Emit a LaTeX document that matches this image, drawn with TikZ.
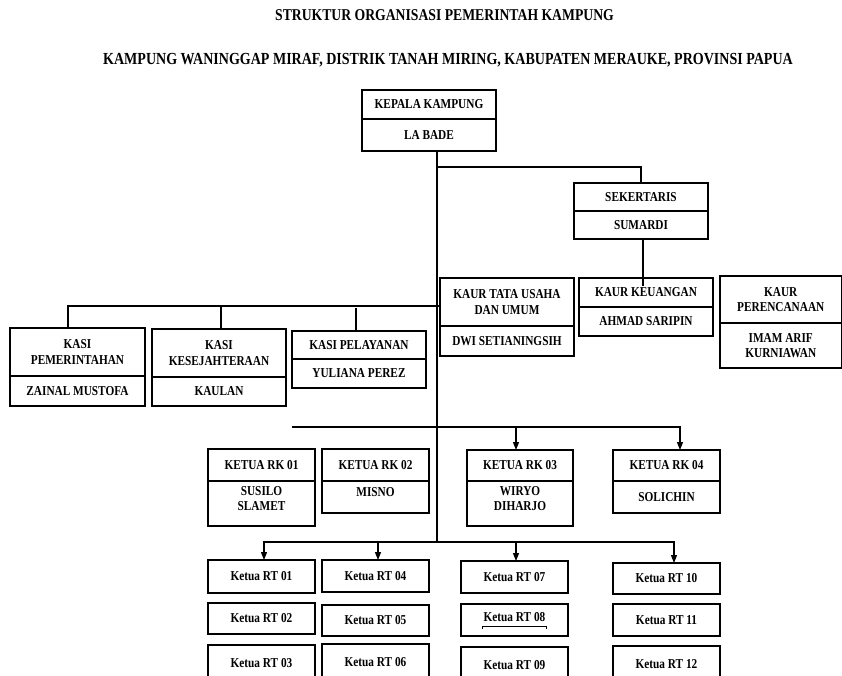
\documentclass[tikz,border=0pt]{standalone}
\usepackage{fontspec}
\setmainfont{Liberation Serif}[FakeStretch=0.83]
\usetikzlibrary{arrows.meta}
\newcommand\cellfont{\fontsize{13.6}{15.5}\selectfont\bfseries}
\newcommand\ttlfont{\fontsize{16.5}{18}\selectfont\bfseries}
\newcommand\ttlfontb{\fontsize{16.9}{18}\selectfont\bfseries}
\newcommand\twobox[9]{%
  \node[cell, minimum width=#3pt, minimum height=#5pt] (#1) at (#2,#4) {#7};
  \node[cell, minimum width=#3pt, minimum height=#6pt, #9] (#1b) at (#1.south west) {#8};
}
\begin{document}
\begin{tikzpicture}[x=1pt,y=-1pt,
  cell/.style={draw, line width=1.1pt, inner sep=0pt, outer sep=0pt, align=center, font=\cellfont, anchor=north west},
  rtbox/.style={cell, minimum width=107pt},
  link/.style={line width=1.2pt},
  arr/.style={line width=1.2pt, -{Triangle[length=8pt,width=6pt]}},
  title/.style={font=\ttlfont, inner sep=0pt}]
\useasboundingbox (0,0) rectangle (842,676);

% titles
\node[title] (t1) at (444.5,15) {STRUKTUR ORGANISASI PEMERINTAH KAMPUNG};
\node[title, font=\ttlfontb] (t2) at (448,60) {KAMPUNG WANINGGAP MIRAF, DISTRIK TANAH MIRING, KABUPATEN MERAUKE, PROVINSI PAPUA};

% two-part boxes
\twobox{kk}{362}{134}{90}{29}{32}{KEPALA KAMPUNG}{LA BADE}{}
\twobox{sek}{574}{134}{183}{28}{28}{SEKERTARIS}{SUMARDI}{}
\twobox{ktu}{440}{134}{278}{48}{30}{KAUR TATA USAHA\\DAN UMUM}{DWI SETIANINGSIH}{}
\twobox{kkeu}{579}{134}{278}{29}{29}{KAUR KEUANGAN}{AHMAD SARIPIN}{}
\twobox{kper}{720}{121.5}{276}{47}{45}{KAUR\\PERENCANAAN}{IMAM ARIF\\KURNIAWAN}{}
\twobox{kpem}{10}{135}{328}{48}{30}{KASI\\PEMERINTAHAN}{ZAINAL MUSTOFA}{}
\twobox{kkes}{152}{134}{329}{48}{29}{KASI\\KESEJAHTERAAN}{KAULAN}{}
\twobox{kpel}{292}{134}{331}{28}{29}{KASI PELAYANAN}{YULIANA PEREZ}{}
\twobox{rk1}{208}{107}{449}{32}{45}{KETUA RK 01}{SUSILO\\SLAMET}{text depth=10pt}
\twobox{rk2}{322}{107}{449}{32}{32}{KETUA RK 02}{MISNO}{text depth=11pt}
\twobox{rk3}{467}{106}{450}{31}{45}{KETUA RK 03}{WIRYO\\DIHARJO}{text depth=10pt}
\twobox{rk4}{613}{107}{450}{31}{32}{KETUA RK 04}{SOLICHIN}{}

% RT boxes
\node[rtbox, minimum height=33pt] (rt1) at (208,560) {Ketua RT 01};
\node[rtbox, minimum height=31pt] (rt2) at (208,603) {Ketua RT 02};
\node[rtbox, minimum height=36pt] (rt3) at (208,645) {Ketua RT 03};
\node[rtbox, minimum height=32pt] (rt4) at (322,560) {Ketua RT 04};
\node[rtbox, minimum height=31pt] (rt5) at (322,605) {Ketua RT 05};
\node[rtbox, minimum height=36pt] (rt6) at (322,644) {Ketua RT 06};
\node[rtbox, minimum height=32pt] (rt7) at (461,561) {Ketua RT 07};
\node[rtbox, minimum height=32pt, text depth=6pt] (rt8) at (461,604) {Ketua RT 08};
\node[rtbox, minimum height=36pt] (rt9) at (461,647) {Ketua RT 09};
\node[rtbox, minimum height=31pt] (rt10) at (613,563) {Ketua RT 10};
\node[rtbox, minimum height=32pt] (rt11) at (613,604) {Ketua RT 11};
\node[rtbox, minimum height=36pt] (rt12) at (613,646) {Ketua RT 12};
\draw[line width=0.6pt] (482,629) -- (482,626) -- (546,626) -- (546,629);

% spine
\coordinate (sptop) at ([xshift=8pt]kkb.south);
\coordinate (spbot) at (sptop |- 0,542);
\draw[link] (sptop) -- (spbot);

% sekertaris
\coordinate (jsek) at (sptop |- 0,167);
\draw[link] (jsek) -| (sek.north);
\coordinate (sekend) at (643,286);
\draw[link] (sekb.south -| sekend) -- (sekend);

% kasi bus
\coordinate (kbusL) at (68,306);
\coordinate (kbusR) at (440,306);
\coordinate (kb2) at (221,306);
\coordinate (kb3) at (356,308);
\draw[link] (kbusR) -- (kbusL) -- (kbusL |- kpem.north);
\draw[link] (kb2) -- (kb2 |- kkes.north);
\draw[link] (kb3) -- (kb3 |- kpel.north);

% RK bus
\coordinate (rkL) at (292,427);
\coordinate (rkR) at (680,427);
\coordinate (rk3j) at (516,427);
\draw[arr] (rkL) -- (rkR) -- (rkR |- rk4.north);
\draw[arr] (rk3j) -- (rk3j |- rk3.north);

% RT bus
\coordinate (rtL) at (264,542);
\coordinate (rtR) at (674,542);
\coordinate (rt4j) at (378,542);
\coordinate (rt7j) at (516,542);
\draw[arr] (rtR) -- (rtL) -- (rtL |- rt1.north);
\draw[arr] (rtL) -- (rtR) -- (rtR |- rt10.north);
\draw[arr] (rt4j) -- (rt4j |- rt4.north);
\draw[arr] (rt7j) -- (rt7j |- rt7.north);
\end{tikzpicture}
\end{document}
